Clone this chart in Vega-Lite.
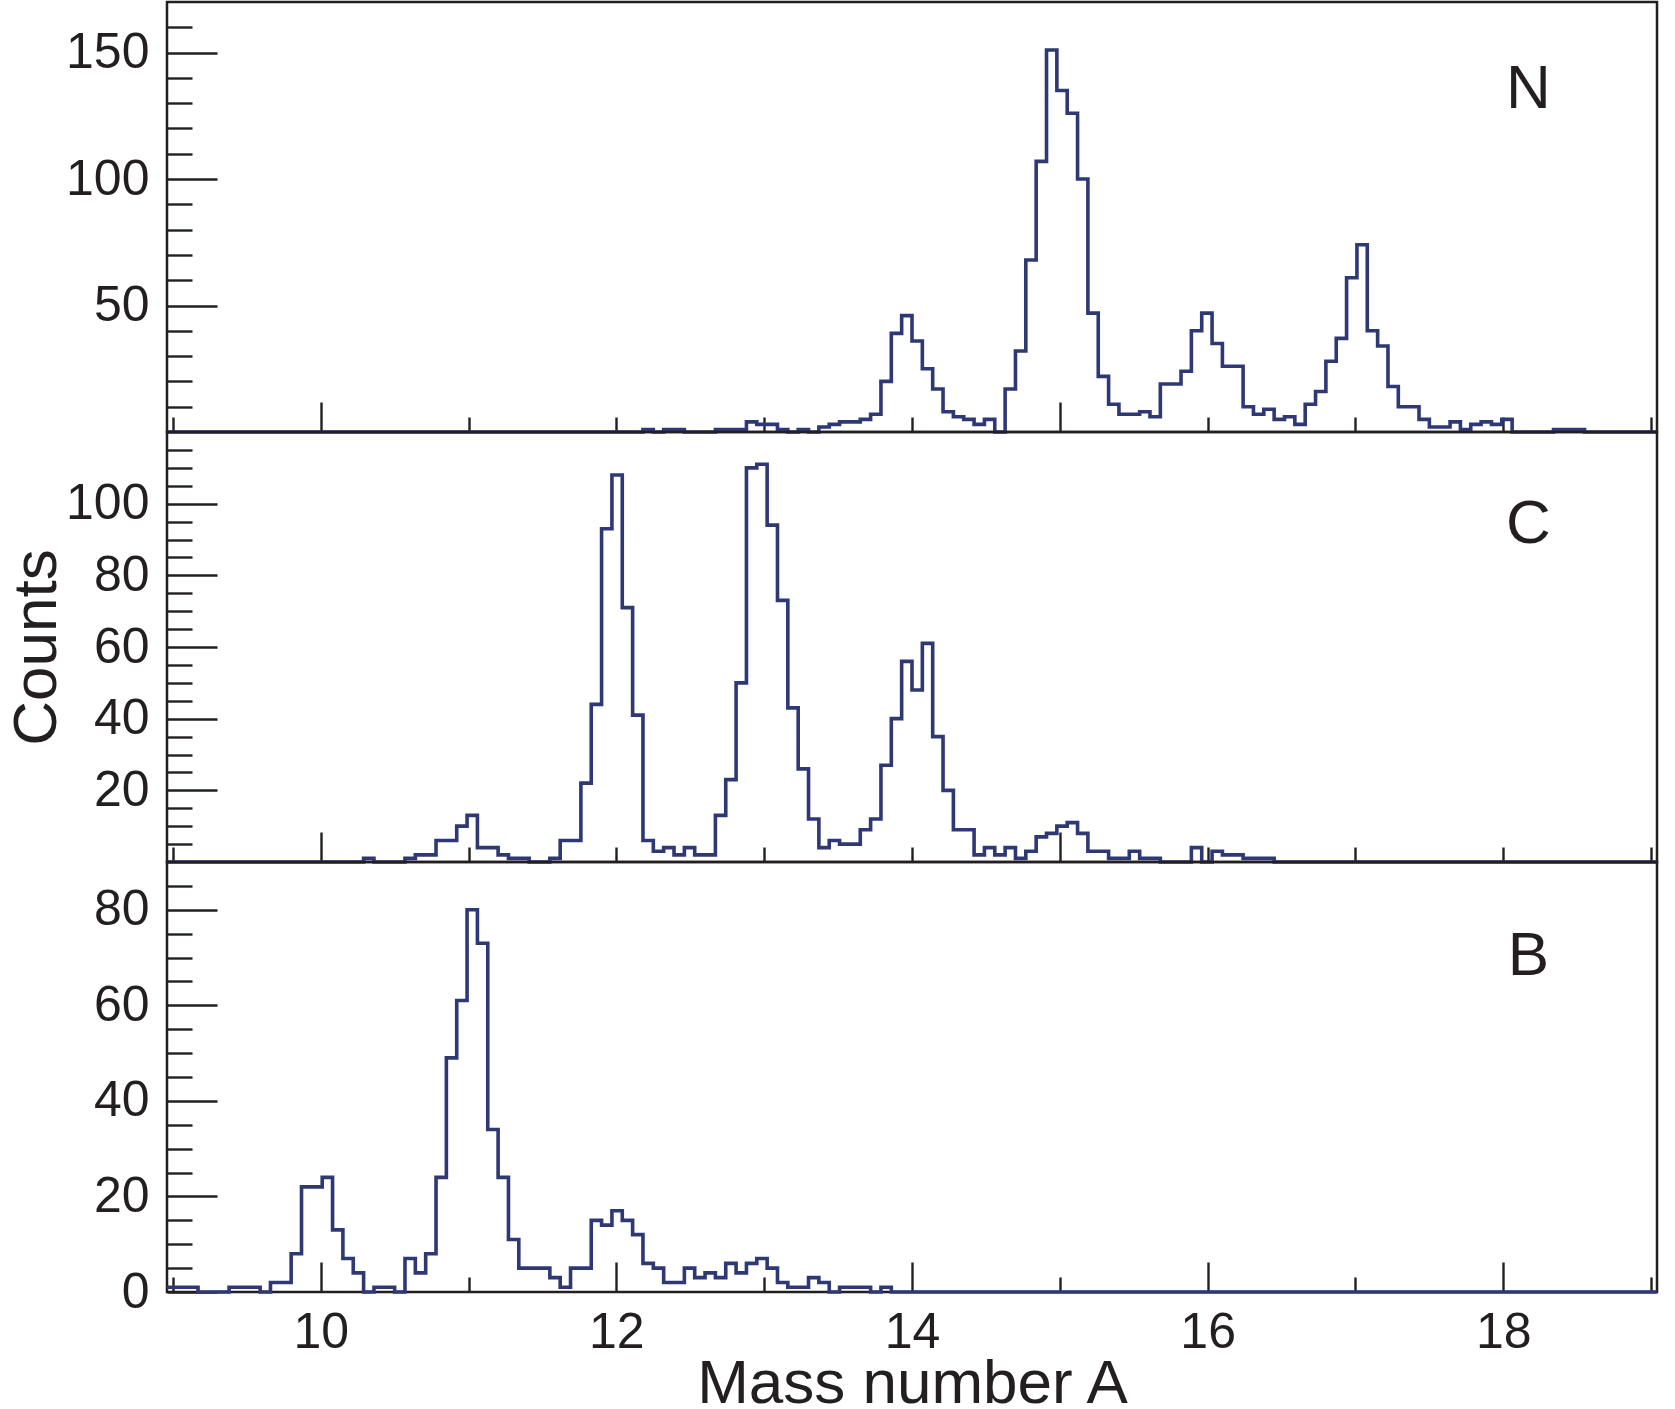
{
  "$schema": "https://vega.github.io/schema/vega-lite/v6.json",
  "background": "white",
  "padding": {"left": 4, "top": 0, "right": 0, "bottom": 0},
  "spacing": 0,
  "bounds": "flush",
  "config": {
    "font": "Liberation Sans",
    "view": {"stroke": "#231f20", "strokeWidth": 2.5},
    "axis": {
      "domain": false,
      "grid": false,
      "tickColor": "#231f20",
      "tickWidth": 2.4,
      "labelColor": "#231f20",
      "labelFont": "Liberation Sans",
      "labelFontSize": 50,
      "labelFlush": false,
      "titleColor": "#231f20",
      "titleFont": "Liberation Sans",
      "titleFontSize": 62,
      "titleFontWeight": "normal"
    }
  },
  "datasets": {
    "N": [
      {"A":8.96,"n":0},{"A":9.03,"n":0},{"A":9.10,"n":0},{"A":9.17,"n":0},{"A":9.24,"n":0},{"A":9.31,"n":0},{"A":9.38,"n":0},{"A":9.45,"n":0},{"A":9.52,"n":0},{"A":9.59,"n":0},
      {"A":9.66,"n":0},{"A":9.73,"n":0},{"A":9.80,"n":0},{"A":9.87,"n":0},{"A":9.94,"n":0},{"A":10.01,"n":0},{"A":10.08,"n":0},{"A":10.15,"n":0},{"A":10.22,"n":0},{"A":10.29,"n":0},
      {"A":10.36,"n":0},{"A":10.43,"n":0},{"A":10.50,"n":0},{"A":10.57,"n":0},{"A":10.64,"n":0},{"A":10.71,"n":0},{"A":10.78,"n":0},{"A":10.85,"n":0},{"A":10.92,"n":0},{"A":10.99,"n":0},
      {"A":11.06,"n":0},{"A":11.13,"n":0},{"A":11.20,"n":0},{"A":11.27,"n":0},{"A":11.34,"n":0},{"A":11.41,"n":0},{"A":11.48,"n":0},{"A":11.55,"n":0},{"A":11.62,"n":0},{"A":11.69,"n":0},
      {"A":11.76,"n":0},{"A":11.83,"n":0},{"A":11.90,"n":0},{"A":11.97,"n":0},{"A":12.04,"n":0},{"A":12.11,"n":0},{"A":12.18,"n":1},{"A":12.25,"n":0},{"A":12.32,"n":1},{"A":12.39,"n":1},
      {"A":12.46,"n":0},{"A":12.53,"n":0},{"A":12.60,"n":0},{"A":12.67,"n":1},{"A":12.74,"n":1},{"A":12.81,"n":1},{"A":12.88,"n":4},{"A":12.95,"n":3},{"A":13.02,"n":3},{"A":13.09,"n":1},
      {"A":13.16,"n":0},{"A":13.23,"n":1},{"A":13.30,"n":0},{"A":13.37,"n":2},{"A":13.44,"n":3},{"A":13.51,"n":4},{"A":13.58,"n":4},{"A":13.65,"n":5},{"A":13.72,"n":7},{"A":13.79,"n":20},
      {"A":13.86,"n":39},{"A":13.93,"n":46},{"A":14.00,"n":36},{"A":14.07,"n":25},{"A":14.14,"n":17},{"A":14.21,"n":8},{"A":14.28,"n":6},{"A":14.35,"n":5},{"A":14.42,"n":3},{"A":14.49,"n":5},
      {"A":14.56,"n":0},{"A":14.63,"n":17},{"A":14.70,"n":32},{"A":14.77,"n":68},{"A":14.84,"n":107},{"A":14.91,"n":151},{"A":14.98,"n":135},{"A":15.05,"n":126},{"A":15.12,"n":100},{"A":15.19,"n":47},
      {"A":15.26,"n":22},{"A":15.33,"n":11},{"A":15.40,"n":7},{"A":15.47,"n":7},{"A":15.54,"n":8},{"A":15.61,"n":6},{"A":15.68,"n":19},{"A":15.75,"n":19},{"A":15.82,"n":24},{"A":15.89,"n":40},
      {"A":15.96,"n":47},{"A":16.03,"n":35},{"A":16.10,"n":26},{"A":16.17,"n":26},{"A":16.24,"n":10},{"A":16.31,"n":7},{"A":16.38,"n":9},{"A":16.45,"n":5},{"A":16.52,"n":6},{"A":16.59,"n":3},
      {"A":16.66,"n":11},{"A":16.73,"n":16},{"A":16.80,"n":28},{"A":16.87,"n":37},{"A":16.94,"n":61},{"A":17.01,"n":74},{"A":17.08,"n":40},{"A":17.15,"n":34},{"A":17.22,"n":18},{"A":17.29,"n":10},
      {"A":17.36,"n":10},{"A":17.43,"n":5},{"A":17.50,"n":2},{"A":17.57,"n":2},{"A":17.64,"n":4},{"A":17.71,"n":1},{"A":17.78,"n":3},{"A":17.85,"n":4},{"A":17.92,"n":3},{"A":17.99,"n":5},
      {"A":18.06,"n":0},{"A":18.13,"n":0},{"A":18.20,"n":0},{"A":18.27,"n":0},{"A":18.34,"n":1},{"A":18.41,"n":1},{"A":18.48,"n":1},{"A":18.55,"n":0},{"A":18.62,"n":0},{"A":18.69,"n":0},
      {"A":18.76,"n":0},{"A":18.83,"n":0},{"A":18.90,"n":0},{"A":18.97,"n":0},{"A":19.04,"n":0}
    ],
    "C": [
      {"A":8.96,"n":0},{"A":9.03,"n":0},{"A":9.10,"n":0},{"A":9.17,"n":0},{"A":9.24,"n":0},{"A":9.31,"n":0},{"A":9.38,"n":0},{"A":9.45,"n":0},{"A":9.52,"n":0},{"A":9.59,"n":0},
      {"A":9.66,"n":0},{"A":9.73,"n":0},{"A":9.80,"n":0},{"A":9.87,"n":0},{"A":9.94,"n":0},{"A":10.01,"n":0},{"A":10.08,"n":0},{"A":10.15,"n":0},{"A":10.22,"n":0},{"A":10.29,"n":1},
      {"A":10.36,"n":0},{"A":10.43,"n":0},{"A":10.50,"n":0},{"A":10.57,"n":1},{"A":10.64,"n":2},{"A":10.71,"n":2},{"A":10.78,"n":6},{"A":10.85,"n":6},{"A":10.92,"n":10},{"A":10.99,"n":13},
      {"A":11.06,"n":4},{"A":11.13,"n":4},{"A":11.20,"n":2},{"A":11.27,"n":1},{"A":11.34,"n":1},{"A":11.41,"n":0},{"A":11.48,"n":0},{"A":11.55,"n":1},{"A":11.62,"n":6},{"A":11.69,"n":6},
      {"A":11.76,"n":22},{"A":11.83,"n":44},{"A":11.90,"n":93},{"A":11.97,"n":108},{"A":12.04,"n":71},{"A":12.11,"n":41},{"A":12.18,"n":6},{"A":12.25,"n":3},{"A":12.32,"n":4},{"A":12.39,"n":2},
      {"A":12.46,"n":4},{"A":12.53,"n":2},{"A":12.60,"n":2},{"A":12.67,"n":13},{"A":12.74,"n":23},{"A":12.81,"n":50},{"A":12.88,"n":110},{"A":12.95,"n":111},{"A":13.02,"n":94},{"A":13.09,"n":73},
      {"A":13.16,"n":43},{"A":13.23,"n":26},{"A":13.30,"n":12},{"A":13.37,"n":4},{"A":13.44,"n":6},{"A":13.51,"n":5},{"A":13.58,"n":5},{"A":13.65,"n":9},{"A":13.72,"n":12},{"A":13.79,"n":27},
      {"A":13.86,"n":40},{"A":13.93,"n":56},{"A":14.00,"n":48},{"A":14.07,"n":61},{"A":14.14,"n":35},{"A":14.21,"n":20},{"A":14.28,"n":9},{"A":14.35,"n":9},{"A":14.42,"n":2},{"A":14.49,"n":4},
      {"A":14.56,"n":2},{"A":14.63,"n":4},{"A":14.70,"n":1},{"A":14.77,"n":3},{"A":14.84,"n":7},{"A":14.91,"n":8},{"A":14.98,"n":10},{"A":15.05,"n":11},{"A":15.12,"n":8},{"A":15.19,"n":3},
      {"A":15.26,"n":3},{"A":15.33,"n":1},{"A":15.40,"n":1},{"A":15.47,"n":3},{"A":15.54,"n":1},{"A":15.61,"n":1},{"A":15.68,"n":0},{"A":15.75,"n":0},{"A":15.82,"n":0},{"A":15.89,"n":4},
      {"A":15.96,"n":0},{"A":16.03,"n":3},{"A":16.10,"n":2},{"A":16.17,"n":2},{"A":16.24,"n":1},{"A":16.31,"n":1},{"A":16.38,"n":1},{"A":16.45,"n":0},{"A":16.52,"n":0},{"A":16.59,"n":0},
      {"A":16.66,"n":0},{"A":16.73,"n":0},{"A":16.80,"n":0},{"A":16.87,"n":0},{"A":16.94,"n":0},{"A":17.01,"n":0},{"A":17.08,"n":0},{"A":17.15,"n":0},{"A":17.22,"n":0},{"A":17.29,"n":0},
      {"A":17.36,"n":0},{"A":17.43,"n":0},{"A":17.50,"n":0},{"A":17.57,"n":0},{"A":17.64,"n":0},{"A":17.71,"n":0},{"A":17.78,"n":0},{"A":17.85,"n":0},{"A":17.92,"n":0},{"A":17.99,"n":0},
      {"A":18.06,"n":0},{"A":18.13,"n":0},{"A":18.20,"n":0},{"A":18.27,"n":0},{"A":18.34,"n":0},{"A":18.41,"n":0},{"A":18.48,"n":0},{"A":18.55,"n":0},{"A":18.62,"n":0},{"A":18.69,"n":0},
      {"A":18.76,"n":0},{"A":18.83,"n":0},{"A":18.90,"n":0},{"A":18.97,"n":0},{"A":19.04,"n":0}
    ],
    "B": [
      {"A":8.96,"n":1},{"A":9.03,"n":1},{"A":9.10,"n":1},{"A":9.17,"n":0},{"A":9.24,"n":0},{"A":9.31,"n":0},{"A":9.38,"n":1},{"A":9.45,"n":1},{"A":9.52,"n":1},{"A":9.59,"n":0},
      {"A":9.66,"n":2},{"A":9.73,"n":2},{"A":9.80,"n":8},{"A":9.87,"n":22},{"A":9.94,"n":22},{"A":10.01,"n":24},{"A":10.08,"n":13},{"A":10.15,"n":7},{"A":10.22,"n":4},{"A":10.29,"n":0},
      {"A":10.36,"n":1},{"A":10.43,"n":1},{"A":10.50,"n":0},{"A":10.57,"n":7},{"A":10.64,"n":4},{"A":10.71,"n":8},{"A":10.78,"n":24},{"A":10.85,"n":49},{"A":10.92,"n":61},{"A":10.99,"n":80},
      {"A":11.06,"n":73},{"A":11.13,"n":34},{"A":11.20,"n":24},{"A":11.27,"n":11},{"A":11.34,"n":5},{"A":11.41,"n":5},{"A":11.48,"n":5},{"A":11.55,"n":3},{"A":11.62,"n":1},{"A":11.69,"n":5},
      {"A":11.76,"n":5},{"A":11.83,"n":15},{"A":11.90,"n":14},{"A":11.97,"n":17},{"A":12.04,"n":15},{"A":12.11,"n":12},{"A":12.18,"n":6},{"A":12.25,"n":5},{"A":12.32,"n":2},{"A":12.39,"n":2},
      {"A":12.46,"n":5},{"A":12.53,"n":3},{"A":12.60,"n":4},{"A":12.67,"n":3},{"A":12.74,"n":6},{"A":12.81,"n":4},{"A":12.88,"n":6},{"A":12.95,"n":7},{"A":13.02,"n":5},{"A":13.09,"n":2},
      {"A":13.16,"n":1},{"A":13.23,"n":1},{"A":13.30,"n":3},{"A":13.37,"n":2},{"A":13.44,"n":0},{"A":13.51,"n":1},{"A":13.58,"n":1},{"A":13.65,"n":1},{"A":13.72,"n":0},{"A":13.79,"n":1},
      {"A":13.86,"n":0},{"A":13.93,"n":0},{"A":14.00,"n":0},{"A":14.07,"n":0},{"A":14.14,"n":0},{"A":14.21,"n":0},{"A":14.28,"n":0},{"A":14.35,"n":0},{"A":14.42,"n":0},{"A":14.49,"n":0},
      {"A":14.56,"n":0},{"A":14.63,"n":0},{"A":14.70,"n":0},{"A":14.77,"n":0},{"A":14.84,"n":0},{"A":14.91,"n":0},{"A":14.98,"n":0},{"A":15.05,"n":0},{"A":15.12,"n":0},{"A":15.19,"n":0},
      {"A":15.26,"n":0},{"A":15.33,"n":0},{"A":15.40,"n":0},{"A":15.47,"n":0},{"A":15.54,"n":0},{"A":15.61,"n":0},{"A":15.68,"n":0},{"A":15.75,"n":0},{"A":15.82,"n":0},{"A":15.89,"n":0},
      {"A":15.96,"n":0},{"A":16.03,"n":0},{"A":16.10,"n":0},{"A":16.17,"n":0},{"A":16.24,"n":0},{"A":16.31,"n":0},{"A":16.38,"n":0},{"A":16.45,"n":0},{"A":16.52,"n":0},{"A":16.59,"n":0},
      {"A":16.66,"n":0},{"A":16.73,"n":0},{"A":16.80,"n":0},{"A":16.87,"n":0},{"A":16.94,"n":0},{"A":17.01,"n":0},{"A":17.08,"n":0},{"A":17.15,"n":0},{"A":17.22,"n":0},{"A":17.29,"n":0},
      {"A":17.36,"n":0},{"A":17.43,"n":0},{"A":17.50,"n":0},{"A":17.57,"n":0},{"A":17.64,"n":0},{"A":17.71,"n":0},{"A":17.78,"n":0},{"A":17.85,"n":0},{"A":17.92,"n":0},{"A":17.99,"n":0},
      {"A":18.06,"n":0},{"A":18.13,"n":0},{"A":18.20,"n":0},{"A":18.27,"n":0},{"A":18.34,"n":0},{"A":18.41,"n":0},{"A":18.48,"n":0},{"A":18.55,"n":0},{"A":18.62,"n":0},{"A":18.69,"n":0},
      {"A":18.76,"n":0},{"A":18.83,"n":0},{"A":18.90,"n":0},{"A":18.97,"n":0},{"A":19.04,"n":0}
    ]
  },
  "vconcat": [
    {
      "width": 1490,
      "height": 430,
      "resolve": {"axis": {"y": "independent"}},
      "layer": [
        {
          "data": {"name": "N"},
          "mark": {"type": "line", "interpolate": "step-after", "color": "#2e3875", "strokeWidth": 3.6},
          "encoding": {
            "x": {
              "field": "A", "type": "quantitative",
              "scale": {"domain": [8.96, 19.04], "nice": false, "zero": false},
              "axis": {
                "title": null, "labels": false,
                "values": [9, 10, 11, 12, 13, 14, 15, 16, 17, 18, 19],
                "tickSize": {"condition": {"test": "datum.value % 5 === 0", "value": -30}, "value": -15}
              }
            },
            "y": {
              "field": "n", "type": "quantitative",
              "scale": {"domain": [0, 170], "nice": false},
              "axis": {
                "orient": "left", "title": null, "format": "d",
                "values": [50, 100, 150],
                "labelPadding": 68, "tickSize": -50
              }
            }
          }
        },
        {
          "data": {"values": [{"label": "N"}]},
          "mark": {"type": "text", "font": "Liberation Sans", "fontSize": 62, "color": "#231f20", "align": "center", "baseline": "alphabetic"},
          "encoding": {
            "x": {"datum": 18.17, "type": "quantitative"},
            "y": {
              "datum": 128, "type": "quantitative",
              "axis": {
                "orient": "left", "title": null, "labels": false,
                "values": [10, 20, 30, 40, 60, 70, 80, 90, 110, 120, 130, 140, 160],
                "tickSize": -25
              }
            },
            "text": {"field": "label"}
          }
        }
      ]
    },
    {
      "width": 1490,
      "height": 430,
      "resolve": {"axis": {"y": "independent"}},
      "layer": [
        {
          "data": {"name": "C"},
          "mark": {"type": "line", "interpolate": "step-after", "color": "#2e3875", "strokeWidth": 3.6},
          "encoding": {
            "x": {
              "field": "A", "type": "quantitative",
              "scale": {"domain": [8.96, 19.04], "nice": false, "zero": false},
              "axis": {
                "title": null, "labels": false,
                "values": [9, 10, 11, 12, 13, 14, 15, 16, 17, 18, 19],
                "tickSize": {"condition": {"test": "datum.value % 5 === 0", "value": -30}, "value": -15}
              }
            },
            "y": {
              "field": "n", "type": "quantitative",
              "scale": {"domain": [0, 120], "nice": false},
              "axis": {
                "orient": "left", "title": "Counts", "titlePadding": -3, "format": "d",
                "values": [20, 40, 60, 80, 100],
                "labelPadding": 68, "tickSize": -50
              }
            }
          }
        },
        {
          "data": {"values": [{"label": "C"}]},
          "mark": {"type": "text", "font": "Liberation Sans", "fontSize": 62, "color": "#231f20", "align": "center", "baseline": "alphabetic"},
          "encoding": {
            "x": {"datum": 18.17, "type": "quantitative"},
            "y": {
              "datum": 89, "type": "quantitative",
              "axis": {
                "orient": "left", "title": null, "labels": false,
                "values": [5, 10, 15, 25, 30, 35, 45, 50, 55, 65, 70, 75, 85, 90, 95, 105, 110, 115],
                "tickSize": -25
              }
            },
            "text": {"field": "label"}
          }
        }
      ]
    },
    {
      "width": 1490,
      "height": 430,
      "resolve": {"axis": {"y": "independent"}},
      "layer": [
        {
          "data": {"name": "B"},
          "mark": {"type": "line", "interpolate": "step-after", "color": "#2e3875", "strokeWidth": 3.6},
          "encoding": {
            "x": {
              "field": "A", "type": "quantitative",
              "scale": {"domain": [8.96, 19.04], "nice": false, "zero": false},
              "axis": {
                "title": "Mass number A",
                "titlePadding": -19,
                "labelOverlap": false,
                "format": "d",
                "values": [9, 10, 11, 12, 13, 14, 15, 16, 17, 18, 19],
                "labelExpr": "datum.value % 2 === 0 ? datum.label : ''",
                "labelPadding": 45,
                "tickSize": {"condition": {"test": "datum.value % 2 === 0", "value": -30}, "value": -15}
              }
            },
            "y": {
              "field": "n", "type": "quantitative",
              "scale": {"domain": [0, 90], "nice": false},
              "axis": {
                "orient": "left", "title": null, "format": "d",
                "values": [0, 20, 40, 60, 80],
                "labelPadding": 68, "tickSize": -50
              }
            }
          }
        },
        {
          "data": {"values": [{"label": "B"}]},
          "mark": {"type": "text", "font": "Liberation Sans", "fontSize": 62, "color": "#231f20", "align": "center", "baseline": "alphabetic"},
          "encoding": {
            "x": {"datum": 18.17, "type": "quantitative"},
            "y": {
              "datum": 66.4, "type": "quantitative",
              "axis": {
                "orient": "left", "title": null, "labels": false,
                "values": [5, 10, 15, 25, 30, 35, 45, 50, 55, 65, 70, 75, 85],
                "tickSize": -25
              }
            },
            "text": {"field": "label"}
          }
        }
      ]
    }
  ]
}
